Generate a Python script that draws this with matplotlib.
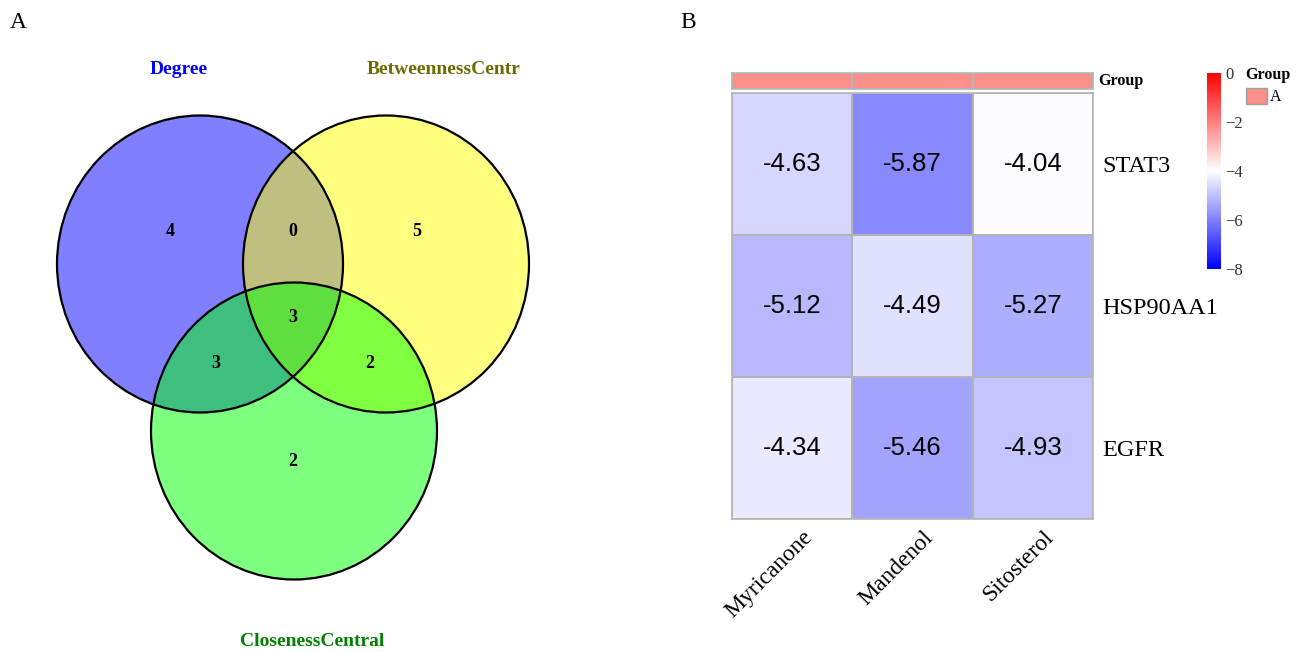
import matplotlib
matplotlib.use("Agg")
import matplotlib.pyplot as plt
import numpy as np
from matplotlib.patches import Ellipse, Rectangle
from matplotlib.colors import LinearSegmentedColormap, ListedColormap, Normalize
from matplotlib.cm import ScalarMappable
import matplotlib.transforms as mtransforms

# Venn: set names, label colours and region counts
set_names = ["Degree", "BetweennessCentr", "ClosenessCentral"]
set_fill = ["#0000FF", "#FFFF00", "#00FF00"]
set_label_colors = ["#0000FF", "#6B6B00", "#008000"]
only_degree, only_between, only_close = 4, 5, 2
degree_between, degree_close, between_close = 0, 3, 2
all_three = 3

# Heatmap: docking scores
compounds = ["Myricanone", "Mandenol", "Sitosterol"]
targets = ["STAT3", "HSP90AA1", "EGFR"]
scores = np.array([
    [-4.63, -5.87, -4.04],
    [-5.12, -4.49, -5.27],
    [-4.34, -5.46, -4.93],
])
groups = ["A", "A", "A"]
cbar_ticks = [0, -2, -4, -6, -8]

W, H = 1299, 652
SERIF = "Liberation Serif"
SANS = "Liberation Sans"
GROUP_COLOR = "#F99089"
GRID_COLOR = "#B4B4B4"

fig = plt.figure(figsize=(W / 100, H / 100), dpi=100)


def px_axes(x0, y0, x1, y1):
    return fig.add_axes([x0 / W, 1 - y1 / H, (x1 - x0) / W, (y1 - y0) / H])


# ---- panel A: three-set Venn diagram ----
ax = fig.add_axes([0, 0, 1, 1])
ax.set_xlim(0, W)
ax.set_ylim(H, 0)
ax.axis("off")

circles = [(200, 264), (386, 264), (294, 431)]
for (cx, cy), c in zip(circles, set_fill):
    ax.add_patch(Ellipse((cx, cy), 286, 297, facecolor=c, alpha=0.5, edgecolor="none"))
for cx, cy in circles:
    ax.add_patch(Ellipse((cx, cy), 286, 297, facecolor="none", edgecolor="black", lw=1.6))

region_pos = [
    (only_degree, 170, 232), (degree_between, 293, 232), (only_between, 417, 232),
    (all_three, 293, 318), (degree_close, 216, 363), (between_close, 370, 363),
    (only_close, 293, 462),
]
for n, x, y in region_pos:
    ax.text(x, y, str(n), ha="center", va="center", fontsize=13,
            fontweight="bold", family=SERIF)

label_pos = [(179, 70), (444, 70), (312, 642)]
for name, col, (x, y) in zip(set_names, set_label_colors, label_pos):
    ax.text(x, y, name, ha="center", va="center", fontsize=14,
            fontweight="bold", color=col, family=SERIF)

ax.text(18, 22, "A", ha="center", va="center", fontsize=17, family=SERIF)
ax.text(688, 22, "B", ha="center", va="center", fontsize=17, family=SERIF)

# ---- panel B: heatmap ----
cmap = LinearSegmentedColormap.from_list("bwr_dock", ["#0000FF", "#FFFFFF", "#FF0000"])
norm = Normalize(vmin=-8, vmax=0)

hax = px_axes(732, 93, 1093, 519)
hax.pcolormesh(scores, cmap=cmap, norm=norm, edgecolors=GRID_COLOR, linewidth=1.2)
hax.set_xlim(0, len(compounds))
hax.set_ylim(len(targets), 0)
for i in range(len(targets)):
    for j in range(len(compounds)):
        hax.text(j + 0.5, i + 0.5, f"{scores[i, j]:.2f}", ha="center", va="center",
                 fontsize=18.5, family=SANS)
hax.yaxis.tick_right()
hax.set_yticks(np.arange(len(targets)) + 0.5)
hax.set_yticklabels(targets, fontsize=17.5, family=SERIF)
hax.set_xticks([])
hax.tick_params(length=0, pad=7)

# column names, rotated and nudged a little to the right of each column centre
col_trans = mtransforms.blended_transform_factory(hax.transData, hax.transAxes) + \
    mtransforms.ScaledTranslation(0.10, -0.08, fig.dpi_scale_trans)
for j, name in enumerate(compounds):
    hax.text(j + 0.5, 0, name, transform=col_trans, fontsize=17, family=SERIF,
             rotation=45, ha="right", va="top", rotation_mode="anchor")

for s in hax.spines.values():
    s.set_color(GRID_COLOR)
    s.set_linewidth(1.2)

# group annotation bar
gax = px_axes(732, 73, 1093, 89)
gax.pcolormesh(np.zeros((1, len(groups))), cmap=ListedColormap([GROUP_COLOR]),
               edgecolors=GRID_COLOR, linewidth=1.2)
gax.set_xlim(0, len(groups))
gax.set_xticks([])
gax.set_yticks([])
for s in gax.spines.values():
    s.set_color(GRID_COLOR)
    s.set_linewidth(1.2)
ax.text(1098, 81, "Group", ha="left", va="center", fontsize=11.5,
        fontweight="bold", family=SERIF)

# colour bar
cax = px_axes(1207, 73, 1221, 269)
cb = fig.colorbar(ScalarMappable(norm=norm, cmap=cmap), cax=cax, ticks=cbar_ticks)
cb.outline.set_visible(False)
cb.ax.tick_params(length=0, pad=3, colors="#333333")
cb.ax.set_yticklabels([f"\u2212{abs(t)}" if t < 0 else str(t) for t in cbar_ticks],
                      fontsize=12, family=SERIF)

# group legend
ax.text(1245, 75, "Group", ha="left", va="center", fontsize=11.5,
        fontweight="bold", family=SERIF)
ax.add_patch(Rectangle((1246, 88), 21, 16, facecolor=GROUP_COLOR,
                       edgecolor="#A0A0A0", lw=1))
ax.text(1270, 97, groups[0], ha="left", va="center", fontsize=11.5, family=SERIF)

fig.savefig("out.png", dpi=100)
